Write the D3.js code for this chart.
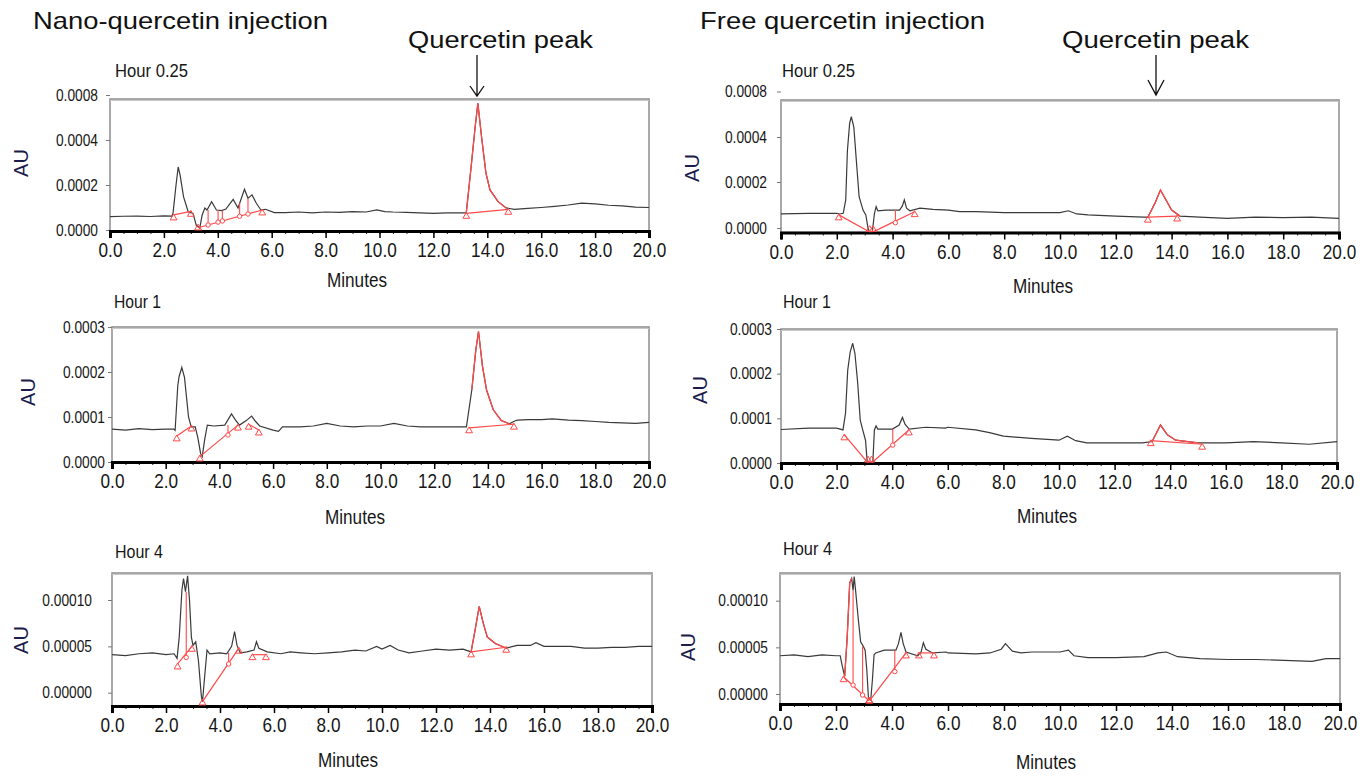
<!DOCTYPE html>
<html>
<head>
<meta charset="utf-8">
<script src="https://cdn.jsdelivr.net/npm/d3@7"></script>
<style>
body { margin: 0; background: #fff; }
.title { font-family: "Liberation Sans", Arial, sans-serif; fill: #111; }
.narrow { font-family: "Liberation Sans Narrow", "Arial Narrow", "Liberation Sans", sans-serif; fill: #161616; }
.au { font-family: "Liberation Sans", Arial, sans-serif; font-size: 20px; fill: #1b1b4d; }
</style>
</head>
<body>
<svg id="chart" width="1366" height="776"></svg>
<script>
// HPLC chromatograms of plasma after nano / free quercetin injection

var minuteTicks = [0, 2, 4, 6, 8, 10, 12, 14, 16, 18, 20];
var hour025Ticks = [0, 0.0002, 0.0004, 0.0008];
var hour1Ticks = [0, 0.0001, 0.0002, 0.0003];
var hour4Ticks = [0, 0.00005, 0.0001];
var columnTitles = ["Nano-quercetin injection", "Free quercetin injection"];
var peakLabel = "Quercetin peak";

// traces, [minutes, AU]
var nanoHour025 = [[0,5.9e-5],[0.5,6.1e-5],[1,6.2e-5],[1.5,6.0e-5],[2,6.3e-5],[2.3,6.2e-5],[2.34,7.6e-5],[2.45,2.0e-4],[2.53,2.8e-4],[2.6,2.45e-4],[2.73,1.47e-4],[2.9,8.1e-5],[3.08,7.4e-5],[3.2,2.2e-5],[3.33,0.8e-5],[3.42,6.7e-5],[3.52,9.8e-5],[3.6,8.9e-5],[3.77,1.26e-4],[3.95,8.9e-5],[4.14,8.6e-5],[4.3,9.3e-5],[4.57,1.36e-4],[4.75,9.8e-5],[4.99,1.81e-4],[5.12,1.41e-4],[5.27,1.56e-4],[5.43,1.19e-4],[5.6,8.9e-5],[5.77,9.2e-5],[6.1,7.7e-5],[6.5,7.7e-5],[7,8.0e-5],[7.5,7.6e-5],[8,8.0e-5],[8.5,7.8e-5],[9,8.2e-5],[9.5,8.0e-5],[9.9,8.9e-5],[10.2,8.2e-5],[10.5,8.0e-5],[11,7.8e-5],[11.5,7.6e-5],[12,7.4e-5],[12.5,7.6e-5],[13,7.6e-5],[13.22,7.6e-5],[13.4,2.81e-4],[13.55,5.18e-4],[13.65,7.26e-4],[13.8,4.0e-4],[13.95,2.53e-4],[14.1,1.78e-4],[14.4,1.26e-4],[14.7,9.8e-5],[15,9.2e-5],[15.5,9.6e-5],[16,1.0e-4],[16.5,1.05e-4],[17,1.11e-4],[17.5,1.19e-4],[18,1.16e-4],[18.5,1.1e-4],[19,1.07e-4],[19.5,1.02e-4],[20,1.0e-4]];
var nanoHour1 = [[0,7.3e-5],[0.5,7.1e-5],[1,7.4e-5],[1.5,7.2e-5],[2,7.3e-5],[2.3,7.3e-5],[2.35,7.0e-5],[2.45,1.7e-4],[2.5,1.9e-4],[2.6,2.1e-4],[2.7,1.88e-4],[2.85,1.0e-4],[2.95,7.8e-5],[3.1,7.8e-5],[3.2,5.3e-5],[3.3,1.9e-5],[3.36,1.2e-5],[3.45,4.9e-5],[3.55,8.2e-5],[3.8,8.0e-5],[4.2,8.2e-5],[4.45,1.07e-4],[4.6,9.3e-5],[4.75,8.2e-5],[5.0,9.2e-5],[5.2,1.02e-4],[5.35,9.0e-5],[5.5,8.0e-5],[6.0,7.1e-5],[6.2,6.8e-5],[6.35,7.8e-5],[7,7.8e-5],[7.5,8.0e-5],[8,8.6e-5],[8.5,8.0e-5],[9,7.8e-5],[9.5,8.0e-5],[10,8.0e-5],[10.5,8.6e-5],[11,8.0e-5],[11.5,7.8e-5],[12,7.8e-5],[12.5,7.8e-5],[13.2,7.8e-5],[13.4,1.6e-4],[13.55,2.49e-4],[13.65,2.9e-4],[13.8,2.12e-4],[13.95,1.6e-4],[14.2,1.16e-4],[14.5,9.2e-5],[14.8,8.5e-5],[15.0,9.1e-5],[15.1,9.3e-5],[15.5,9.4e-5],[16,9.4e-5],[16.4,9.6e-5],[17,9.3e-5],[17.5,9.2e-5],[18,9.0e-5],[18.5,8.8e-5],[19,8.7e-5],[19.5,8.6e-5],[20,8.8e-5]];
var nanoHour4 = [[0,4.1e-5],[0.5,4.0e-5],[1,4.2e-5],[1.5,4.3e-5],[2,4.1e-5],[2.3,4.2e-5],[2.41,3.7e-5],[2.49,6.0e-5],[2.59,1.11e-4],[2.65,1.23e-4],[2.72,1.09e-4],[2.8,1.26e-4],[2.87,1.0e-4],[2.94,6.0e-5],[3.0,5.1e-5],[3.1,5.5e-5],[3.2,3.5e-5],[3.31,-4e-6],[3.35,-1.0e-5],[3.43,1.7e-5],[3.52,4.6e-5],[3.62,4.2e-5],[4.0,4.3e-5],[4.25,4.2e-5],[4.43,5.0e-5],[4.54,6.6e-5],[4.63,5.1e-5],[4.75,4.3e-5],[5.0,4.4e-5],[5.26,4.6e-5],[5.35,5.5e-5],[5.44,4.8e-5],[5.75,4.4e-5],[6.25,4.2e-5],[6.6,4.4e-5],[7,4.3e-5],[7.5,4.2e-5],[8,4.3e-5],[8.5,4.4e-5],[9,4.6e-5],[9.4,4.5e-5],[9.8,5.0e-5],[10.0,4.7e-5],[10.3,5.1e-5],[10.6,4.6e-5],[11,4.3e-5],[11.5,4.5e-5],[12,4.7e-5],[12.5,4.6e-5],[13,4.7e-5],[13.3,4.4e-5],[13.45,6.8e-5],[13.6,9.3e-5],[13.75,7.5e-5],[13.9,6.0e-5],[14.2,5.3e-5],[14.6,4.8e-5],[15,5.1e-5],[15.5,5.1e-5],[15.7,5.4e-5],[16,5.0e-5],[16.5,5.0e-5],[17,5.0e-5],[17.5,4.8e-5],[18,4.8e-5],[18.5,4.9e-5],[19,4.9e-5],[19.5,5.0e-5],[20,5.0e-5]];
var freeHour025 = [[0,6.1e-5],[1,6.4e-5],[2,6.4e-5],[2.1,6.1e-5],[2.23,6.4e-5],[2.32,1.22e-4],[2.38,3.39e-4],[2.46,5.2e-4],[2.52,5.78e-4],[2.61,4.9e-4],[2.7,2.96e-4],[2.8,1.36e-4],[2.94,7.8e-5],[3.04,5.7e-5],[3.12,-1e-6],[3.18,-2.0e-5],[3.27,-2.0e-5],[3.35,6.4e-5],[3.41,9.3e-5],[3.47,7.5e-5],[3.77,7.8e-5],[4.25,7.8e-5],[4.35,9.6e-5],[4.42,1.22e-4],[4.5,8.6e-5],[4.62,7.5e-5],[4.98,8.6e-5],[5.45,8.1e-5],[6.0,7.8e-5],[6.4,7.1e-5],[7,7.1e-5],[8,6.7e-5],[9,6.7e-5],[10,6.7e-5],[10.3,7.5e-5],[10.6,6.1e-5],[11,5.7e-5],[12,5.2e-5],[13,4.7e-5],[13.15,4.7e-5],[13.4,1.07e-4],[13.6,1.65e-4],[13.8,1.22e-4],[14.0,7.8e-5],[14.3,5.2e-5],[15,4.7e-5],[16,4.2e-5],[17,4.7e-5],[18,4.5e-5],[19,4.7e-5],[20,4.2e-5]];
var freeHour1 = [[0,7.5e-5],[1,7.8e-5],[2,7.8e-5],[2.23,7.4e-5],[2.32,1.11e-4],[2.4,2.08e-4],[2.49,2.49e-4],[2.58,2.68e-4],[2.66,2.45e-4],[2.76,1.78e-4],[2.85,9.6e-5],[2.94,7.4e-5],[3.04,5.1e-5],[3.1,3e-6],[3.18,-2e-6],[3.3,-2e-6],[3.36,7.4e-5],[3.42,8.3e-5],[3.48,7.6e-5],[4.01,7.6e-5],[4.25,8.5e-5],[4.37,1.02e-4],[4.46,8.7e-5],[4.61,7.6e-5],[5.2,8.0e-5],[5.92,7.8e-5],[6,8.0e-5],[7,7.4e-5],[7.5,6.8e-5],[8,6.0e-5],[9,5.5e-5],[10,5.1e-5],[10.3,6.0e-5],[10.6,5.0e-5],[11,4.5e-5],[12,4.5e-5],[13,4.5e-5],[13.35,4.8e-5],[13.65,8.5e-5],[13.9,6.3e-5],[14.2,5.1e-5],[15,4.5e-5],[16,4.5e-5],[17,4.8e-5],[18,4.5e-5],[19,4.2e-5],[20,4.8e-5]];
var freeHour4 = [[0,4.1e-5],[0.5,4.2e-5],[1.0,4.0e-5],[1.5,4.2e-5],[2.0,4.1e-5],[2.15,4.1e-5],[2.23,2.9e-5],[2.31,1.9e-5],[2.4,6.1e-5],[2.49,1.19e-4],[2.56,1.24e-4],[2.61,1.11e-4],[2.65,1.26e-4],[2.7,1.11e-4],[2.8,7.9e-5],[2.88,5.6e-5],[2.98,5.1e-5],[3.04,4.7e-5],[3.1,2.6e-5],[3.16,-4.6e-6],[3.24,-6.4e-6],[3.3,1.5e-5],[3.36,4.2e-5],[3.42,4.4e-5],[3.72,4.7e-5],[4.14,4.7e-5],[4.23,5.4e-5],[4.32,6.6e-5],[4.4,5.4e-5],[4.5,4.5e-5],[4.92,4.1e-5],[5.04,4.5e-5],[5.12,5.5e-5],[5.21,4.8e-5],[5.45,4.4e-5],[5.93,4.5e-5],[6,4.4e-5],[7,4.3e-5],[7.5,4.4e-5],[7.9,4.8e-5],[8.05,5.4e-5],[8.3,4.6e-5],[8.6,4.4e-5],[9,4.5e-5],[10,4.5e-5],[10.3,4.7e-5],[10.5,4.1e-5],[11,3.9e-5],[12,3.9e-5],[13,4.0e-5],[13.5,4.4e-5],[13.8,4.5e-5],[14.2,4.0e-5],[15,3.8e-5],[16,3.7e-5],[17,3.7e-5],[18,3.6e-5],[19,3.5e-5],[19.5,3.8e-5],[20,3.8e-5]];

// integration baselines [t1, AU1, t2, AU2]
var nanoHour025Base = [[2.36,6.7e-5,3.0,8.3e-5],[3.27,1.0e-5,5.65,8.9e-5],[13.22,7.4e-5,14.78,9.2e-5]];
var nanoHour1Base = [[2.41,5.8e-5,2.96,8.0e-5],[3.27,1.2e-5,4.69,8.2e-5],[5.09,8.4e-5,5.47,7.1e-5],[13.3,7.6e-5,14.97,8.4e-5]];
var nanoHour4Base = [[2.43,3.1e-5,2.96,5.0e-5],[3.35,-9.7e-6,4.7,4.8e-5],[5.2,4.1e-5,5.7,4.1e-5],[13.3,4.4e-5,14.6,4.9e-5]];
var freeHour025Base = [[2.07,5.7e-5,3.18,-1.7e-5],[3.3,-1.7e-5,4.79,7.1e-5],[13.15,4.7e-5,14.2,5.2e-5]];
var freeHour1Base = [[2.28,6.3e-5,3.13,0],[3.26,0,4.6,7.4e-5],[13.3,5.0e-5,15.15,4.2e-5]];
var freeHour4Base = [[2.27,1.85e-5,3.18,-7.2e-6],[3.2,-7.2e-6,4.5,4.4e-5],[4.96,4.4e-5,5.5,4.4e-5]];

// peak splits (drop lines) [t, AU on trace, AU on baseline]
var nanoHour025Drops = [[3.64,8.9e-5,2.2e-5],[4.01,8.9e-5,3.5e-5],[4.17,8.6e-5,4.0e-5],[4.81,1.19e-4,6.1e-5],[5.12,1.41e-4,7.1e-5]];
var nanoHour1Drops = [[4.32,8.2e-5,6.0e-5]];
var nanoHour4Drops = [[2.75,1.09e-4,3.8e-5],[4.32,4.3e-5,3.1e-5]];
var freeHour025Drops = [[4.1,7.8e-5,2.3e-5]];
var freeHour1Drops = [[4.02,7.6e-5,4.0e-5]];
var freeHour4Drops = [[2.61,1.11e-4,9.6e-6],[2.95,5.1e-5,-1.1e-6],[4.1,4.7e-5,2.4e-5]];

// stretch of each trace drawn in red (integrated peak), minutes
var nanoHour025Peak = [13.22, 14.78];
var nanoHour1Peak = [13.3, 14.97];
var nanoHour4Peak = [13.3, 14.6];
var freeHour025Peak = [13.15, 14.3];
var freeHour1Peak = [13.3, 15.15];
var freeHour4Peak = [2.27, 2.56];

var panels = [
  {label: "Hour 0.25", data: nanoHour025, base: nanoHour025Base, drops: nanoHour025Drops, peak: nanoHour025Peak,
   ticks: hour025Ticks, fmt: ".4f", yDomain: hour025Ticks, yRange: [230, 185, 140, 95],
   x0: 110, x1: 649, top: 99, bottom: 231, gap: 12, lx: 115, ly: 77, lw: 73, mx: 357, my: 287, ax: 21, ay: 163},
  {label: "Hour 1", data: nanoHour1, base: nanoHour1Base, drops: nanoHour1Drops, peak: nanoHour1Peak,
   ticks: hour1Ticks, fmt: ".4f", yDomain: [0, 0.0003], yRange: [462, 327],
   x0: 112, x1: 649, top: 327, bottom: 462, gap: 7, lx: 114, ly: 308, lw: 47, mx: 355, my: 524, ax: 28, ay: 392},
  {label: "Hour 4", data: nanoHour4, base: nanoHour4Base, drops: nanoHour4Drops, peak: nanoHour4Peak,
   ticks: hour4Ticks, fmt: ".5f", yDomain: [0, 0.0001], yRange: [692.7, 600],
   x0: 112, x1: 652, top: 573, bottom: 706, gap: 20, lx: 115, ly: 558, lw: 48, mx: 348, my: 767, ax: 21, ay: 640},
  {label: "Hour 0.25", data: freeHour025, base: freeHour025Base, drops: freeHour025Drops, peak: freeHour025Peak,
   ticks: hour025Ticks, fmt: ".4f", yDomain: hour025Ticks, yRange: [228, 182, 137, 91.5],
   x0: 781, x1: 1339, top: 100, bottom: 232.5, gap: 14, lx: 782, ly: 77, lw: 73, mx: 1043, my: 293, ax: 692, ay: 168},
  {label: "Hour 1", data: freeHour1, base: freeHour1Base, drops: freeHour1Drops, peak: freeHour1Peak,
   ticks: hour1Ticks, fmt: ".4f", yDomain: [0, 0.0003], yRange: [463, 329],
   x0: 781, x1: 1337, top: 329, bottom: 463, gap: 9, lx: 783, ly: 308, lw: 48, mx: 1047, my: 523, ax: 700, ay: 390},
  {label: "Hour 4", data: freeHour4, base: freeHour4Base, drops: freeHour4Drops, peak: freeHour4Peak,
   ticks: hour4Ticks, fmt: ".5f", yDomain: [0, 0.0001], yRange: [694, 600.7],
   x0: 780, x1: 1340, top: 573, bottom: 704, gap: 12, lx: 783, ly: 555, lw: 49, mx: 1046, my: 769, ax: 688, ay: 647}
];

var red = "#ff4a4a";
var squeeze = 0.86;   // stands in for a narrow face
var svg = d3.select("#chart");

// column titles and arrows
svg.append("text").attr("class", "title").attr("x", 33).attr("y", 29)
  .attr("font-size", 24).attr("textLength", 295).attr("lengthAdjust", "spacingAndGlyphs")
  .text(columnTitles[0]);
svg.append("text").attr("class", "title").attr("x", 700).attr("y", 29)
  .attr("font-size", 24).attr("textLength", 285).attr("lengthAdjust", "spacingAndGlyphs")
  .text(columnTitles[1]);
svg.append("text").attr("class", "title").attr("x", 408).attr("y", 48)
  .attr("font-size", 23).attr("textLength", 185).attr("lengthAdjust", "spacingAndGlyphs")
  .text(peakLabel);
svg.append("text").attr("class", "title").attr("x", 1062).attr("y", 48)
  .attr("font-size", 23).attr("textLength", 187).attr("lengthAdjust", "spacingAndGlyphs")
  .text(peakLabel);
svg.append("path").attr("d", "M477,55 L477,96 M470,86 L477,96 L484,86")
  .attr("fill", "none").attr("stroke", "#111").attr("stroke-width", 1.3);
svg.append("path").attr("d", "M1156,55 L1156,95 M1148,80 L1156,95 L1164,80")
  .attr("fill", "none").attr("stroke", "#111").attr("stroke-width", 1.3);

panels.forEach(function(p, i) {
  var x = d3.scaleLinear().domain([0, 20]).range([p.x0, p.x1]);
  var y = d3.scaleLinear().domain(p.yDomain).range(p.yRange);
  var g = svg.append("g");

  g.append("clipPath").attr("id", "clip" + i)
    .append("rect").attr("x", p.x0).attr("y", p.top)
    .attr("width", p.x1 - p.x0).attr("height", p.bottom - p.top);

  // frame
  g.append("rect").attr("x", p.x0).attr("y", p.top)
    .attr("width", p.x1 - p.x0).attr("height", p.bottom - p.top)
    .attr("fill", "none").attr("stroke", "#8c8c8c").attr("stroke-width", 1.5);
  g.append("line").attr("x1", p.x0).attr("x2", p.x1).attr("y1", p.top + 1.5).attr("y2", p.top + 1.5)
    .attr("stroke", "#c8c8c8").attr("stroke-width", 1);

  // y axis
  var yAxis = d3.axisLeft(y).tickValues(p.ticks).tickFormat(d3.format(p.fmt)).tickSize(4);
  var ya = g.append("g").attr("transform", "translate(" + p.x0 + ",0)").call(yAxis);
  ya.select(".domain").remove();
  ya.selectAll(".tick line").attr("stroke", "#777");
  ya.selectAll(".tick text").attr("class", "narrow").attr("font-size", 16).attr("fill", "#1c1c3a")
    .attr("x", -p.gap / squeeze).attr("transform", "scale(" + squeeze + ",1)");

  // x axis, minor then major ticks
  var minor = g.append("g").attr("transform", "translate(0," + p.bottom + ")")
    .call(d3.axisBottom(x).tickValues(d3.range(0, 20.01, 0.5)).tickSize(3).tickFormat(""));
  minor.select(".domain").remove();
  minor.selectAll(".tick line").attr("stroke", "#222");
  var xa = g.append("g").attr("transform", "translate(0," + p.bottom + ")")
    .call(d3.axisBottom(x).tickValues(minuteTicks).tickFormat(d3.format(".1f")).tickSize(7).tickPadding(5));
  xa.select(".domain").attr("stroke", "#000").attr("stroke-width", 3);
  xa.selectAll(".tick line").attr("stroke", "#000").attr("stroke-width", 1.5);
  xa.selectAll(".tick text").attr("class", "narrow").attr("font-size", 20)
    .attr("transform", "scale(" + squeeze + ",1)");

  // trace
  var line = d3.line().x(function(d) { return x(d[0]); }).y(function(d) { return y(d[1]); });
  var plot = g.append("g").attr("clip-path", "url(#clip" + i + ")");
  plot.append("path").datum(p.data).attr("d", line)
    .attr("fill", "none").attr("stroke", "#3a3a3a").attr("stroke-width", 1.2);

  // integrated peak overlay in red
  plot.append("path")
    .datum(p.data.filter(function(d) { return d[0] >= p.peak[0] && d[0] <= p.peak[1]; }))
    .attr("d", line).attr("fill", "none").attr("stroke", red).attr("stroke-width", 1.3);

  // integration baselines
  plot.selectAll(".base").data(p.base).enter().append("line")
    .attr("x1", function(d) { return x(d[0]); }).attr("y1", function(d) { return y(d[1]); })
    .attr("x2", function(d) { return x(d[2]); }).attr("y2", function(d) { return y(d[3]); })
    .attr("stroke", red).attr("stroke-width", 1.2);
  plot.selectAll(".drop").data(p.drops).enter().append("line")
    .attr("x1", function(d) { return x(d[0]); }).attr("x2", function(d) { return x(d[0]); })
    .attr("y1", function(d) { return y(d[1]); }).attr("y2", function(d) { return y(d[2]); })
    .attr("stroke", red).attr("stroke-width", 1.1);

  // markers: triangles at baseline ends, circles at drop feet
  var ends = [];
  p.base.forEach(function(d) { ends.push([d[0], d[1]]); ends.push([d[2], d[3]]); });
  g.selectAll(".tri").data(ends).enter().append("path")
    .attr("d", d3.symbol().type(d3.symbolTriangle).size(20))
    .attr("transform", function(d) { return "translate(" + x(d[0]) + "," + (Math.min(y(d[1]) + 3, p.bottom - 3)) + ")"; })
    .attr("fill", "none").attr("stroke", red).attr("stroke-width", 1);
  g.selectAll(".dot").data(p.drops).enter().append("circle")
    .attr("cx", function(d) { return x(d[0]); }).attr("cy", function(d) { return y(d[2]); })
    .attr("r", 2.2).attr("fill", "#fff").attr("stroke", red).attr("stroke-width", 1);

  // labels
  g.append("text").attr("class", "narrow").attr("x", p.lx).attr("y", p.ly)
    .attr("font-size", 18).attr("textLength", p.lw).attr("lengthAdjust", "spacingAndGlyphs").text(p.label);
  g.append("text").attr("class", "narrow").attr("x", p.mx).attr("y", p.my)
    .attr("font-size", 20).attr("text-anchor", "middle")
    .attr("textLength", 60).attr("lengthAdjust", "spacingAndGlyphs").text("Minutes");
  g.append("text").attr("class", "au")
    .attr("transform", "translate(" + p.ax + "," + p.ay + ") rotate(-90)")
    .attr("text-anchor", "middle").attr("dy", "0.35em").text("AU");
});
</script>
</body>
</html>
